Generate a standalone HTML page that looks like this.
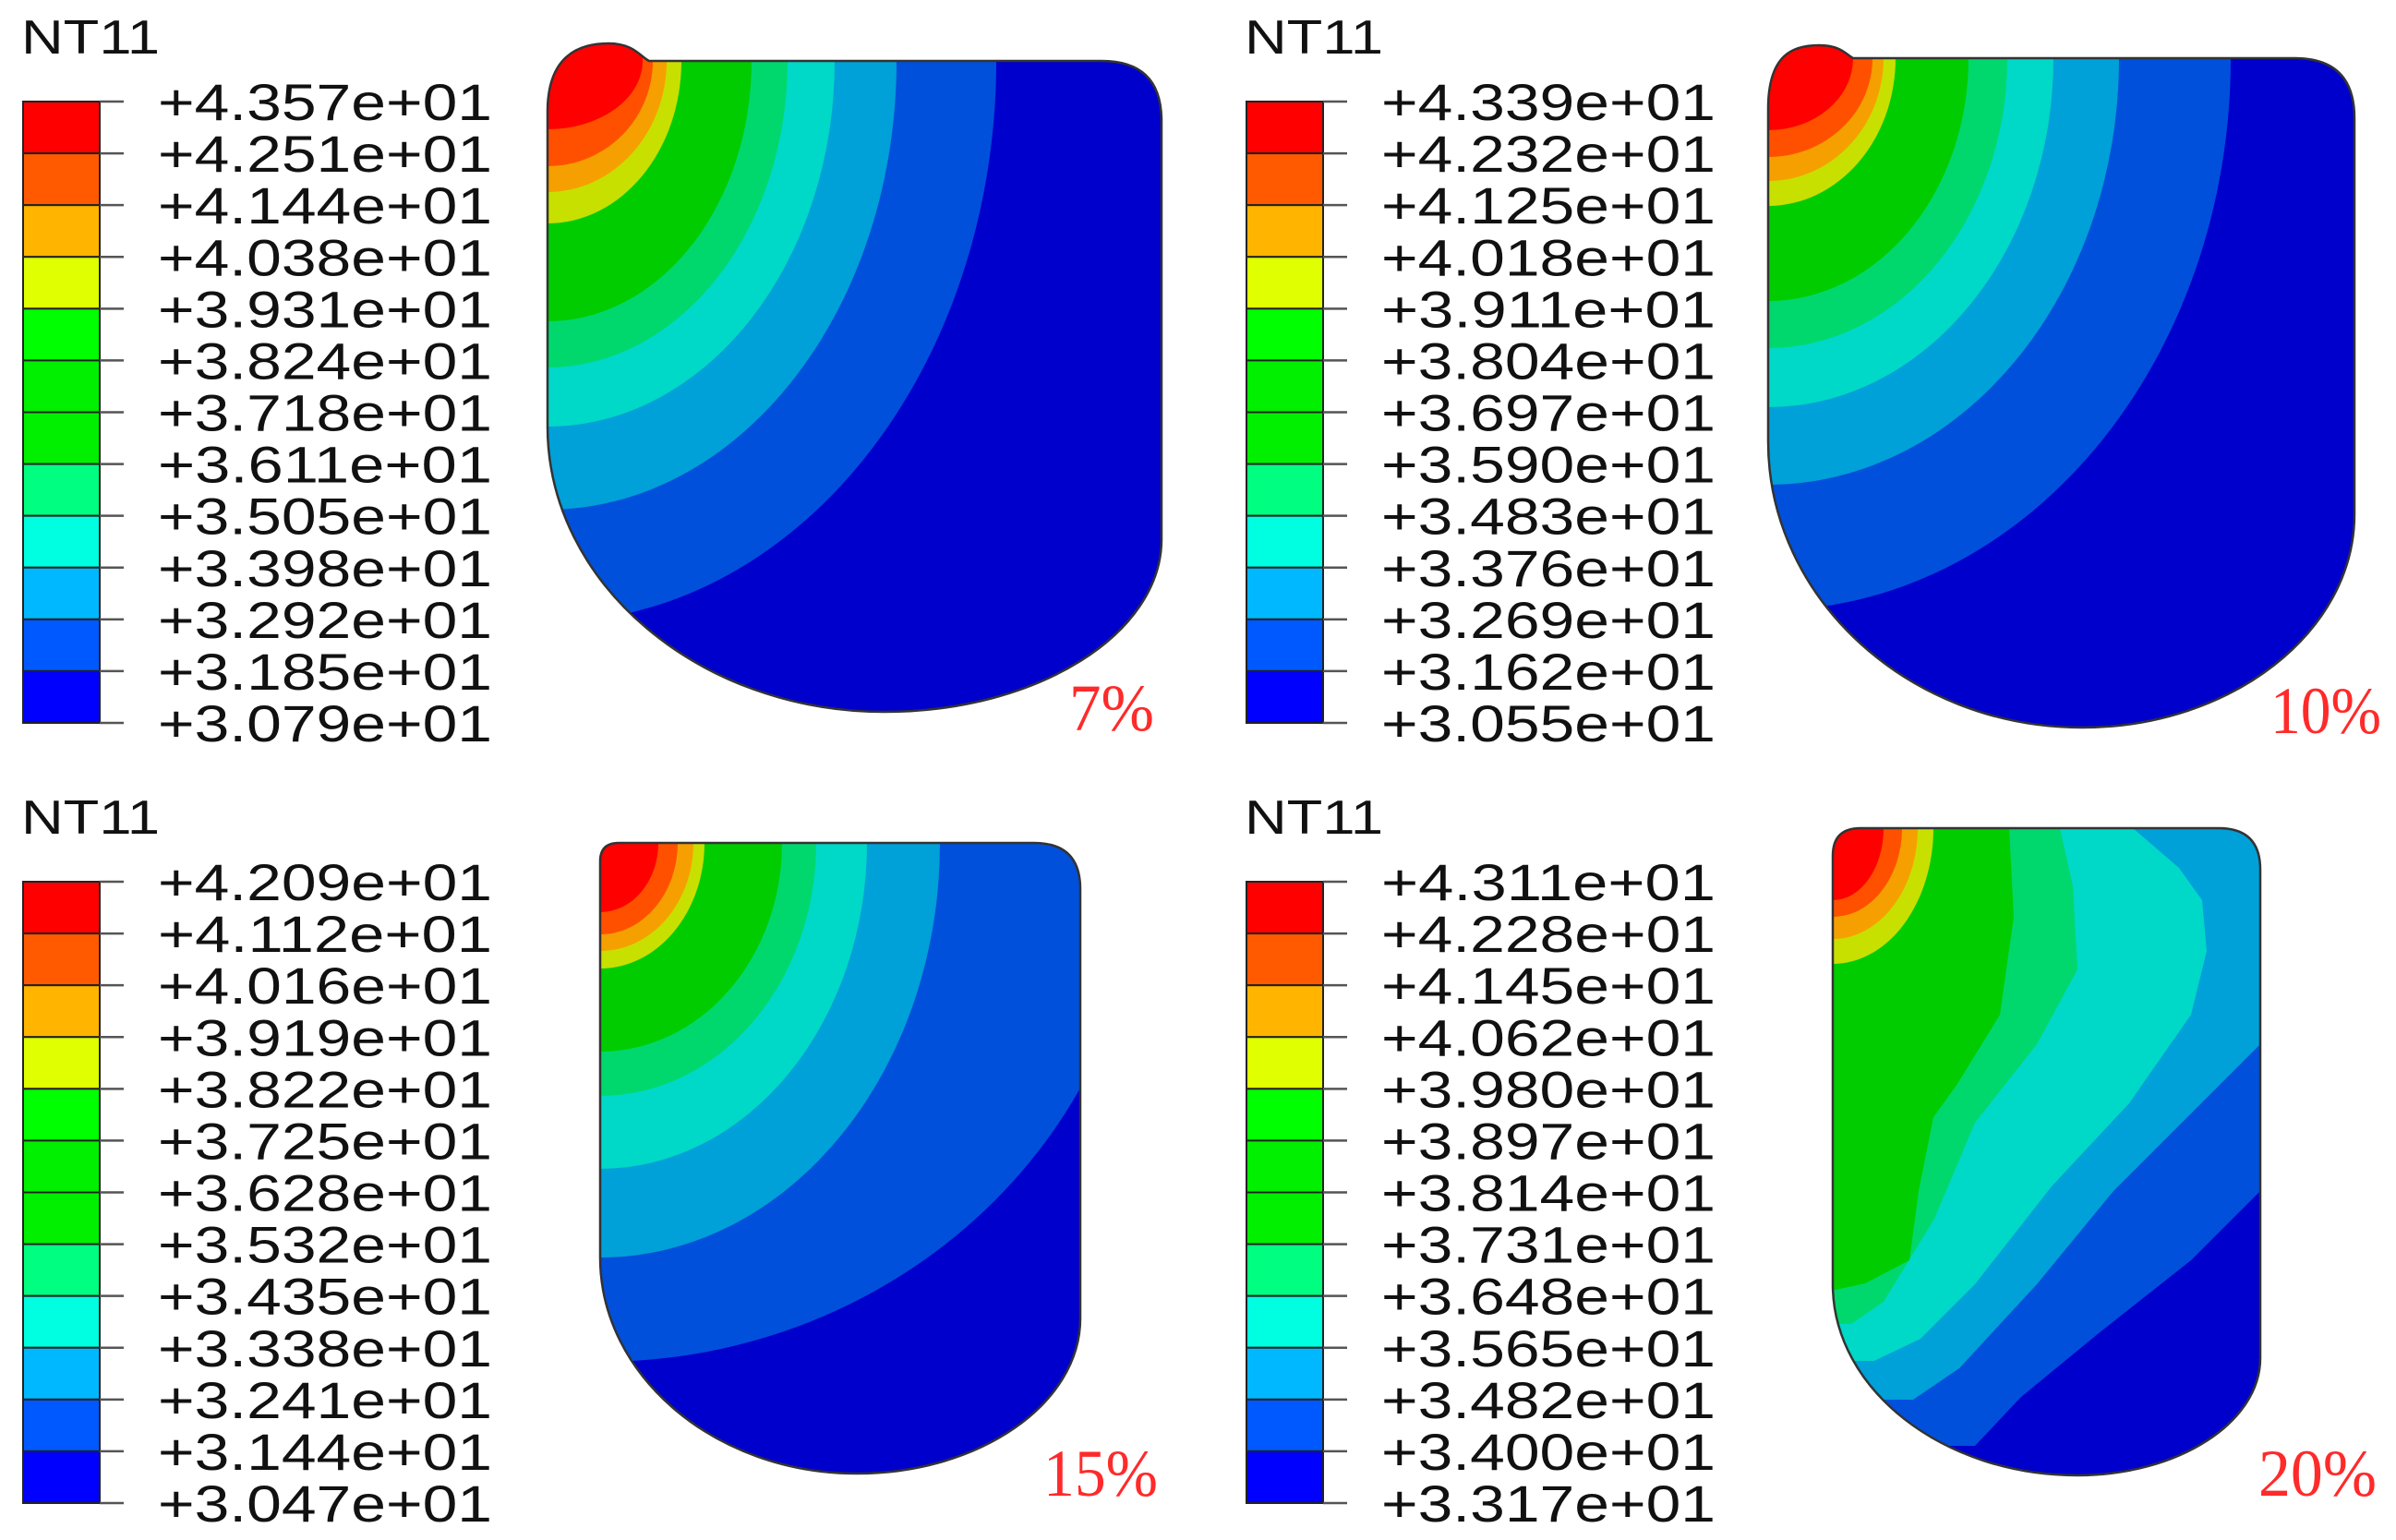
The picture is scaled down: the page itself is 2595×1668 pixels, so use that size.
<!DOCTYPE html>
<html><head><meta charset="utf-8">
<style>
html,body{margin:0;padding:0;background:#fff;}
svg{display:block;}
</style></head>
<body>
<svg id="fig" width="2595" height="1668" viewBox="0 0 2595 1668" xmlns="http://www.w3.org/2000/svg"></svg>
<script>
// ---- data ----
const legendColors = ['#ff0000','#ff5a00','#ffb400','#e0ff00','#00ff00','#00f000','#00f000','#00ff80','#00ffe0','#00b8ff','#0058ff','#0000ff'];
const shapeColors = ['#0050dc','#00a0d8','#00d8c8','#00d86e','#00cc00','#c8e000','#f5a000','#ff5000','#ff0000'];
const shapeBase = '#0000cc';
const values7 = ['+4.357e+01','+4.251e+01','+4.144e+01','+4.038e+01','+3.931e+01','+3.824e+01','+3.718e+01','+3.611e+01','+3.505e+01','+3.398e+01','+3.292e+01','+3.185e+01','+3.079e+01'];
const values10 = ['+4.339e+01','+4.232e+01','+4.125e+01','+4.018e+01','+3.911e+01','+3.804e+01','+3.697e+01','+3.590e+01','+3.483e+01','+3.376e+01','+3.269e+01','+3.162e+01','+3.055e+01'];
const values15 = ['+4.209e+01','+4.112e+01','+4.016e+01','+3.919e+01','+3.822e+01','+3.725e+01','+3.628e+01','+3.532e+01','+3.435e+01','+3.338e+01','+3.241e+01','+3.144e+01','+3.047e+01'];
const values20 = ['+4.311e+01','+4.228e+01','+4.145e+01','+4.062e+01','+3.980e+01','+3.897e+01','+3.814e+01','+3.731e+01','+3.648e+01','+3.565e+01','+3.482e+01','+3.400e+01','+3.317e+01'];
const rx7 = [486,378,311,260,221,145,129,114,103];
const ry7 = [608,486,396,332,282,176,142,114,74];
const rx10 = [501,380,309,259,217,138,125,113,92];
const ry10 = [598,462,378,314,263,160,133,107,78];
const rx15 = [590,368,289,234,197,113,101,84,63];
const ry15 = [562,449,353,274,226,136,117,99,75];
const rx20 = [109,92,75,55];
const ry20 = [147,120,96,78];
const bands20 = [
 [[2448,1290],[2373,1365],[2273,1444],[2189,1513],[2139,1566]],
 [[2448,1131],[2373,1206],[2289,1290],[2206,1391],[2122,1482],[2072,1516]],
 [[2310,897],[2360,940],[2385,975],[2390,1030],[2373,1099],[2306,1195],[2222,1285],[2139,1391],[2080,1450],[2030,1474]],
 [[2231,897],[2245,960],[2250,1050],[2206,1131],[2139,1216],[2095,1320],[2040,1410],[2005,1434]],
 [[2176,897],[2181,993],[2166,1099],[2120,1174],[2094,1210],[2078,1290],[2068,1365],[2020,1390],[1988,1397]]
];
const percentLabels = ['7%','10%','15%','20%'];

// ---- drawing ----
const NS='http://www.w3.org/2000/svg';
const svg=document.getElementById('fig');
function el(tag,attrs,parent){const e=document.createElementNS(NS,tag);for(const k in attrs)e.setAttribute(k,attrs[k]);(parent||svg).appendChild(e);return e;}

function legend(x0,yTop,yBot,labels,textX,titleX,titleBase,idx){
  const g=el('g',{});
  
  
  const t=el('text',{x:titleX,y:titleBase,'font-family':'Liberation Sans, sans-serif','font-size':52,fill:'#111',textLength:150,lengthAdjust:'spacingAndGlyphs'},g);
  t.textContent='NT11';
  
  
  const n=legendColors.length, h=(yBot-yTop)/n;
  for(let i=0;i<n;i++){
    const r=el('rect',{x:x0,y:yTop+i*h,width:83,height:h,fill:legendColors[i],stroke:'#222','stroke-width':2},g);
    
    
  }
  for(let i=0;i<=n;i++){
    const y=yTop+i*h;
    el('line',{x1:x0+83,x2:x0+109,y1:y,y2:y,stroke:'#555','stroke-width':2.5},g);
    const tx=el('text',{x:textX,y:y+20,'font-family':'Liberation Sans, sans-serif','font-size':56,fill:'#111',textLength:362,lengthAdjust:'spacingAndGlyphs'},g);
    tx.textContent=labels[i];
    
    
  }
}

function shapePath(p){
  const {L,R,T,B,bx,yr,yl,rTR,rTL,bump}=p;
  let d='';
  if(bump){
    const bw=bump.w, rise=bump.rise;
    d+=`M${L},${T+55} C${L},${T-5} ${L+bw*0.3},${T-rise} ${L+bw*0.6},${T-rise} C${L+bw*0.85},${T-rise} ${L+bw*0.92},${T-4} ${L+bw},${T} `;
  } else {
    d+=`M${L},${T+rTL} Q${L},${T} ${L+rTL},${T} `;
  }
  d+=`L${R-rTR},${T} Q${R},${T} ${R},${T+rTR} L${R},${yr} `;
  d+=`C${R},${yr+(B-yr)*0.55} ${bx+(R-bx)*0.55},${B} ${bx},${B} `;
  d+=`C${bx-(bx-L)*0.55},${B} ${L},${yl+(B-yl)*0.55} ${L},${yl} Z`;
  return d;
}

function panel(idx,p,rxs,rys,lines,pct,pctX,pctY,pctW){
  const g=el('g',{});
  
  
  const d=shapePath(p);
  const cp=el('clipPath',{id:'clip'+idx},g);
  el('path',{d:d},cp);
  const inner=el('g',{'clip-path':`url(#clip${idx})`},g);
  el('path',{d:d,fill:shapeBase},inner);
  let ci=0;
  if(lines){
    for(let k=0;k<lines.length;k++){
      const pts=lines[k];
      const first=pts[0], last=pts[pts.length-1];
      const poly=pts.map(q=>q.join(',')).concat([[p.L-400,last[1]].join(','),[p.L-400,p.T-400].join(','),[p.R+400,p.T-400].join(','),[p.R+400,first[1]].join(',')]).join(' ');
      const pg=el('polygon',{points:poly,fill:shapeColors[k],'stroke-linejoin':'round'},inner);
      
      
    }
    ci=lines.length;
  }
  for(let i=0;i<rxs.length;i++){
    const e=el('ellipse',{cx:p.L,cy:p.T,rx:rxs[i],ry:rys[i],fill:shapeColors[ci+i]},inner);
    
    
  }
  const o=el('path',{d:d,fill:'none',stroke:'#333','stroke-width':2.5},g);
  
  
  const t=el('text',{x:pctX,y:pctY,'font-family':'Liberation Serif, serif','font-size':72,fill:'#ff2a2a',textLength:pctW,lengthAdjust:'spacingAndGlyphs'},g);
  t.textContent=pct;
  
  
}

legend(25,110,783,values7,171,23,58,1);
legend(1350,110,783,values10,1496,1348,58,2);
legend(25,955,1628,values15,171,23,903,3);
legend(1350,955,1628,values20,1496,1348,903,4);

panel(1,{L:593,R:1258,T:66,B:771,bx:958,yr:584,yl:462,rTR:65,rTL:0,bump:{w:110,rise:19}},rx7,ry7,null,percentLabels[0],1158,791,92);
panel(2,{L:1915,R:2550,T:63,B:788,bx:2255,yr:557,yl:478,rTR:65,rTL:0,bump:{w:92,rise:14}},rx10,ry10,null,percentLabels[1],2459,794,120);
panel(3,{L:650,R:1170,T:913,B:1596,bx:928,yr:1428,yl:1362,rTR:50,rTL:20,bump:null},rx15,ry15,null,percentLabels[2],1130,1620,124);
panel(4,{L:1985,R:2448,T:897,B:1598,bx:2250,yr:1471,yl:1391,rTR:45,rTL:30,bump:null},rx20,ry20,bands20,percentLabels[3],2446,1620,128);
</script>
</body></html>
